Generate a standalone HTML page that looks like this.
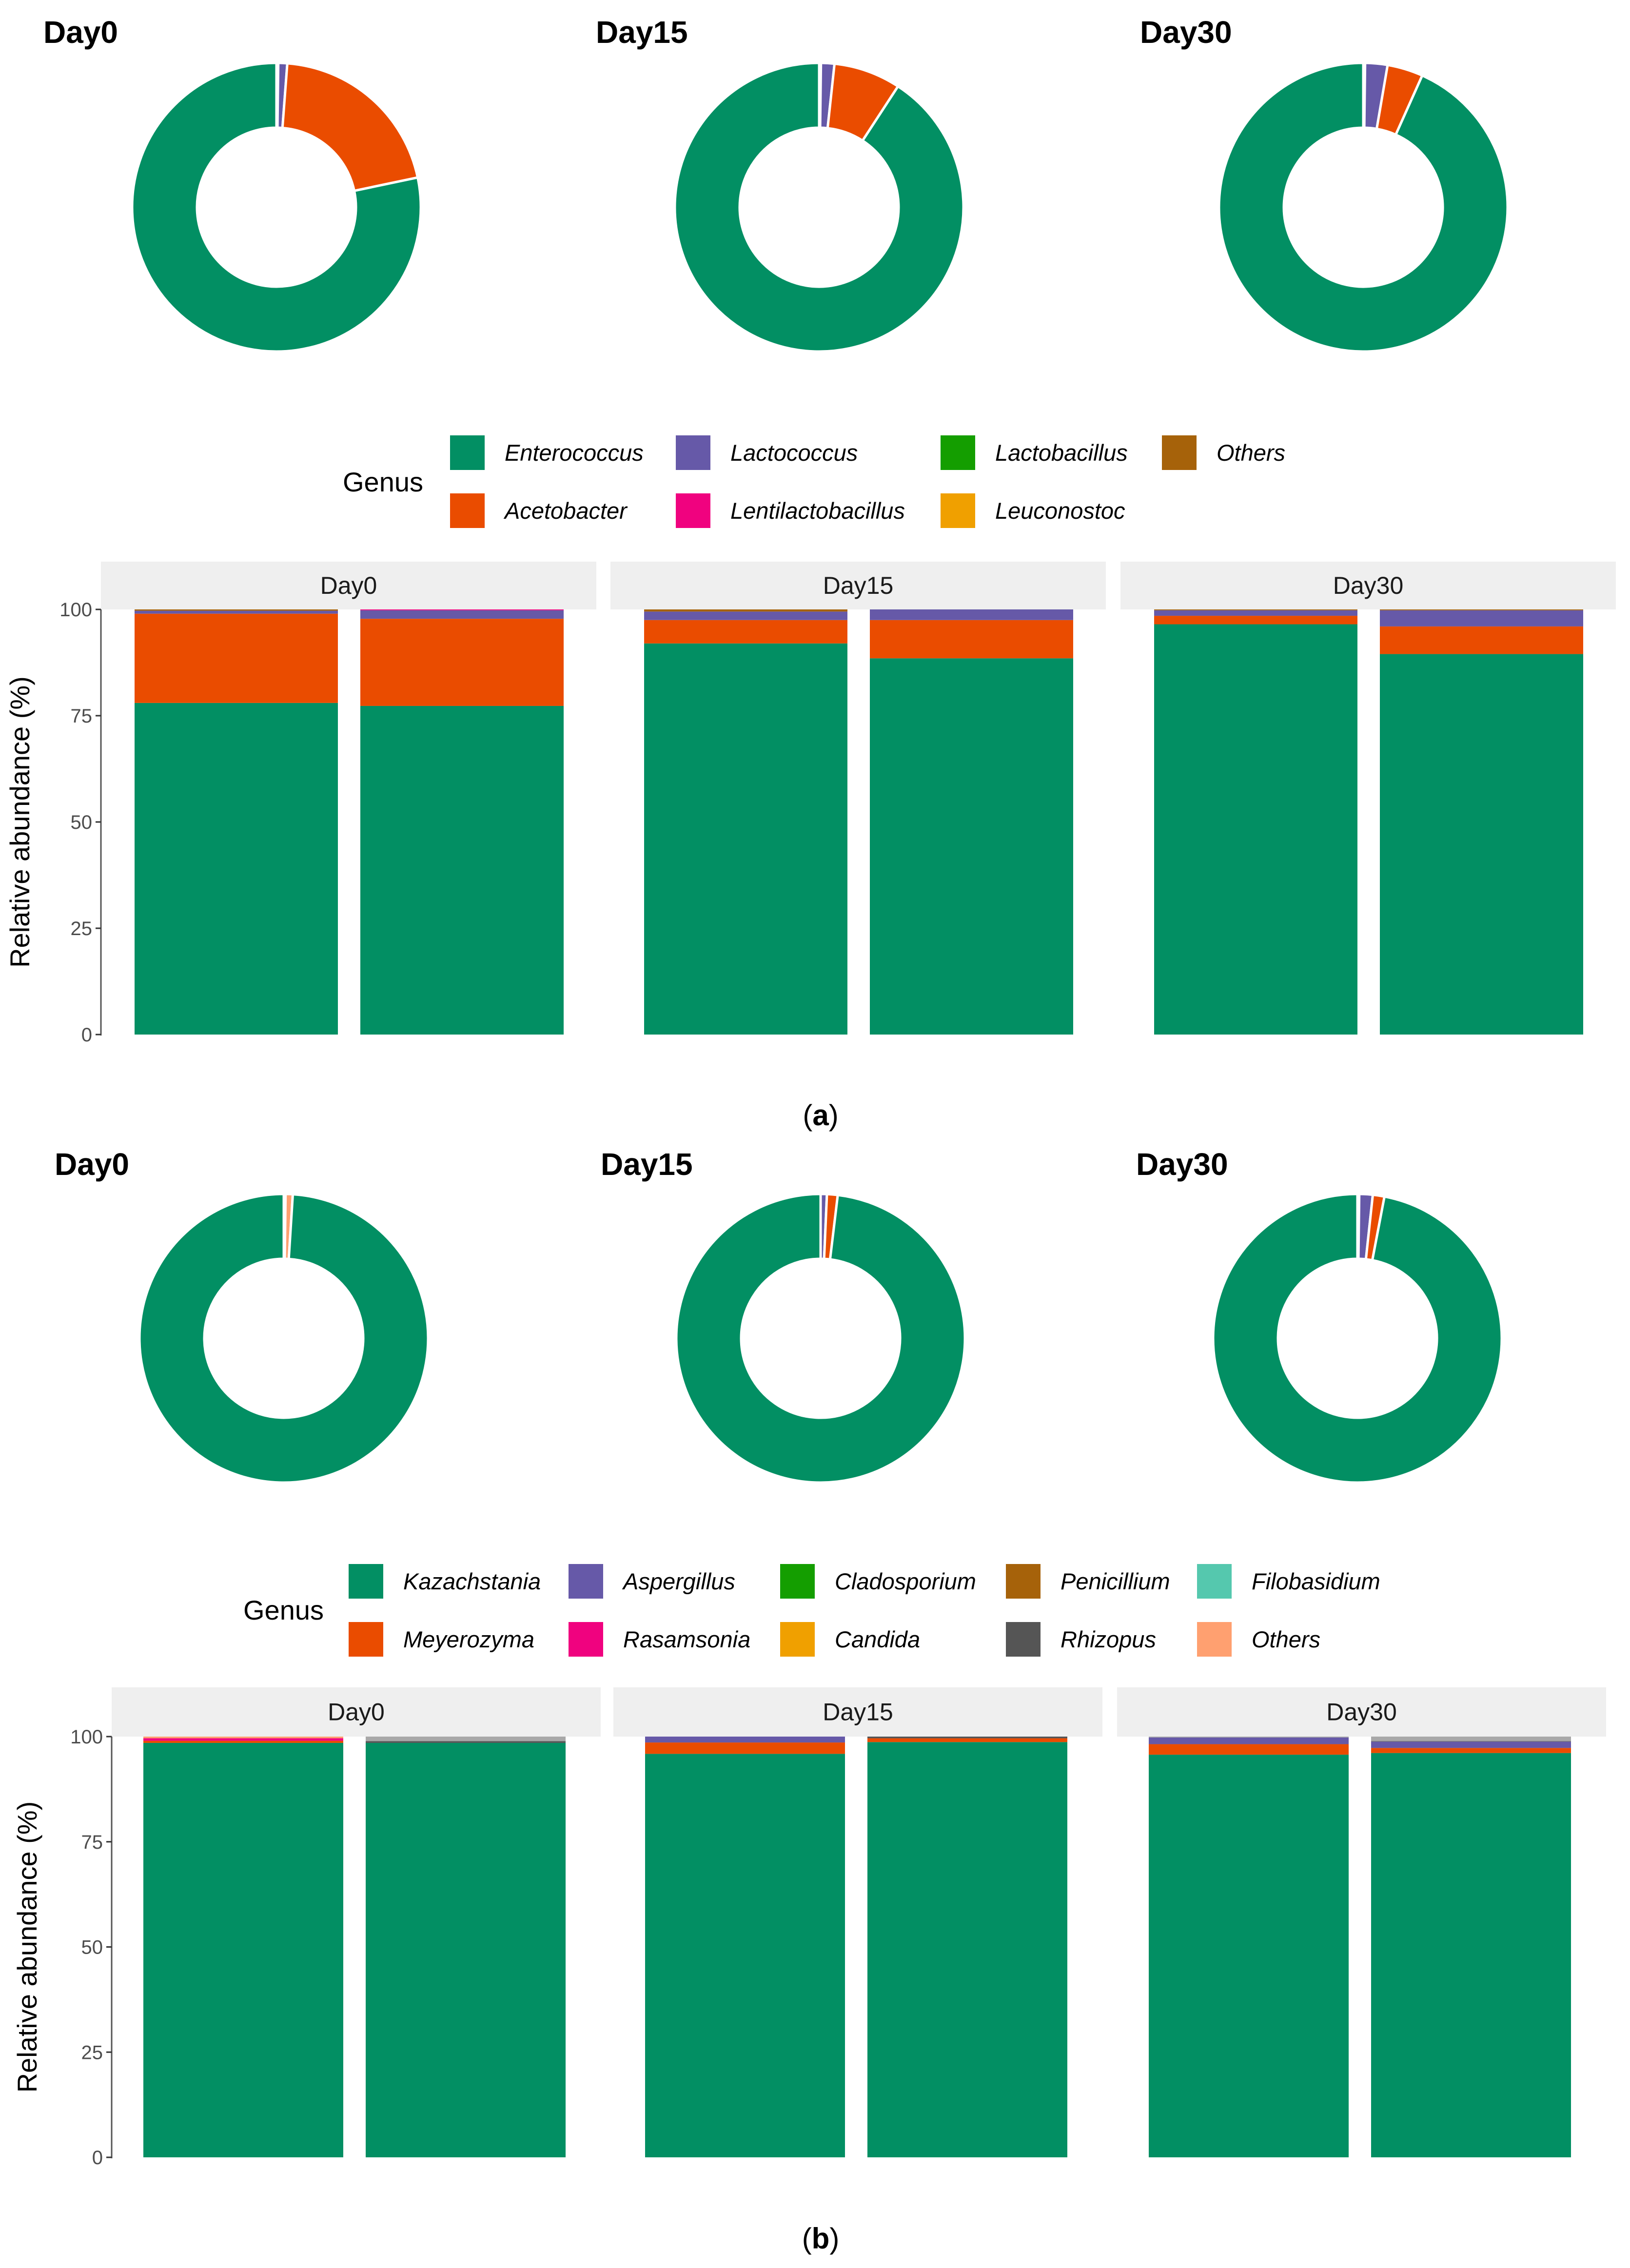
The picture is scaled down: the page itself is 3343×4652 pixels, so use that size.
<!DOCTYPE html>
<html><head><meta charset="utf-8"><style>
html,body{margin:0;padding:0;background:#fff}
svg{display:block}
text{font-family:"Liberation Sans",sans-serif}
</style></head><body>
<svg id="fig" width="3343" height="4652" viewBox="0 0 3343 4652" xmlns="http://www.w3.org/2000/svg">
<rect width="3343" height="4652" fill="#fff"/>
<g id="root"></g>
</svg>
<script>
// ---------- DATA ----------
const days = ["Day0","Day15","Day30"];
// bacteria (a)
const bacGenera = ["Enterococcus","Acetobacter","Lactococcus","Lentilactobacillus","Lactobacillus","Leuconostoc","Others"];
const bacColors = ["#028F63","#EA4C00","#6659A8","#F0027F","#149E00","#F0A000","#A6620A"];
const bacBars = [
  [78.0,21.0,0.7,0,0,0,0.3],
  [77.3,20.5,2.0,0.2,0,0,0],
  [92.0,5.5,2.0,0,0,0,0.5],
  [88.5,9.0,2.5,0,0,0,0],
  [96.5,2.0,1.3,0,0,0,0.2],
  [89.5,6.5,3.8,0,0,0,0.2]
];
const bacDonut = [
  [78.3,20.5,1.0,0,0,0,0.2],
  [90.8,7.5,1.5,0,0,0,0.2],
  [93.3,4.0,2.5,0,0,0,0.2]
];
// fungi (b)
const funGenera = ["Kazachstania","Meyerozyma","Aspergillus","Rasamsonia","Cladosporium","Candida","Penicillium","Rhizopus","Filobasidium","Others","Unassigned"];
const funColors = ["#028F63","#EA4C00","#6659A8","#F0027F","#149E00","#F0A000","#A6620A","#555555","#55C8AE","#FFA070","#A8A8A8"];
const funBars = [
  [98.5,0.5,0,0.6,0,0,0,0,0,0.4,0],
  [98.5,0,0,0,0,0,0,0.4,0,0,1.1],
  [95.9,2.7,1.4,0,0,0,0,0,0,0,0],
  [98.7,0.9,0,0,0,0,0,0.4,0,0,0],
  [95.7,2.5,1.6,0,0,0,0,0,0,0,0.2],
  [96.1,1.2,1.5,0,0,0,0,0.1,0,0,1.1]
];
const funDonut = [
  [99.0,0,0,0,0,0,0,0,0,0.8,0.2],
  [98.1,1.2,0.7,0,0,0,0,0,0,0,0],
  [97.0,1.3,1.5,0,0,0,0,0,0,0,0.2]
];
const yTicks = [0,25,50,75,100];

// ---------- DRAW ----------
const NS="http://www.w3.org/2000/svg";
const root=document.getElementById('root');
function el(tag,attrs,parent,txt){const e=document.createElementNS(NS,tag);for(const k in attrs)e.setAttribute(k,attrs[k]);if(txt!==undefined)e.textContent=txt;(parent||root).appendChild(e);return e;}

function donut(cx,cy,R,r,vals,colors,order,name){
  const g=el('g',{});
  
  
  const tot=vals.reduce((a,b)=>a+b,0);
  let a0=0;
  order.forEach(i=>{
    const v=vals[i]; if(v<=0) return;
    const a1=a0+v/tot*2*Math.PI;
    const p=(ang,rad)=>[cx+rad*Math.sin(ang),cy-rad*Math.cos(ang)];
    const [x1,y1]=p(a0,R),[x2,y2]=p(a1,R),[x3,y3]=p(a1,r),[x4,y4]=p(a0,r);
    const lg=(a1-a0)>Math.PI?1:0;
    const s=el('path',{d:`M${x1},${y1}A${R},${R} 0 ${lg} 1 ${x2},${y2}L${x3},${y3}A${r},${r} 0 ${lg} 0 ${x4},${y4}Z`,fill:colors[i],stroke:'#fff','stroke-width':5},g);
    
    
    a0=a1;
  });
}

function barChart(cfg){
  const {y0,y100,panels,pw,boff,bw,bgap,stripTop,bars,colors,axisX,titleX,name}=cfg;
  const ys=v=>y0-v*(y0-y100)/100;
  const g=el('g',{});
  
  
  panels.forEach((px,pi)=>{
    const st=el('rect',{x:px,y:stripTop,width:pw,height:y100-stripTop,fill:'#EFEFEF'},g);
    
    
    const tt=el('text',{x:px+pw/2,y:(stripTop+y100)/2+17,'font-size':50,'text-anchor':'middle',fill:'#1a1a1a'},g,days[pi]);
    
    
    for(let b=0;b<2;b++){
      const vals=bars[pi*2+b];
      const bx=px+boff+b*(bw+bgap);
      let cum=0;
      vals.forEach((v,i)=>{
        if(v<=0)return;
        const r=el('rect',{x:bx,y:ys(cum+v),width:bw,height:ys(cum)-ys(cum+v),fill:colors[i]},g);
        
        
        cum+=v;
      });
    }
  });
  el('line',{x1:axisX,y1:y0+2,x2:axisX,y2:y100,stroke:'#555','stroke-width':3},g);
  yTicks.forEach(t=>{
    el('line',{x1:axisX-11,y1:ys(t),x2:axisX,y2:ys(t),stroke:'#333','stroke-width':3},g);
    const lt=el('text',{x:axisX-18,y:ys(t)+14,'font-size':40,'text-anchor':'end',fill:'#4d4d4d'},g,t);
    
    
  });
  const yt=el('text',{x:0,y:0,'font-size':56,'text-anchor':'middle',fill:'#000',transform:`translate(${titleX},${(y0+y100)/2}) rotate(-90)`},g,'Relative abundance (%)');
  
  
}

function legend(cfg){
  const {gx,gy,cols,rows,names,colors,labelOff,name}=cfg;
  const g=el('g',{});
  
  
  const t=el('text',{x:gx,y:gy,'font-size':56,fill:'#000'},g,'Genus');
  
  
  names.forEach((n,i)=>{
    const c=Math.floor(i/2), r=i%2;
    if(c>=cols.length)return;
    const e=el('g',{},g);
    
    
    el('rect',{x:cols[c],y:rows[r],width:71,height:71,fill:colors[i]},e);
    el('text',{x:cols[c]+labelOff,y:rows[r]+52,'font-size':47,'font-style':'italic',fill:'#000'},e,n);
  });
}

function title(x,y,t){
  const e=el('text',{x:x,y:y,'font-size':64,'font-weight':'bold',fill:'#000'},root,t);
  
  
}

// ---- (a) ----
const bacOrder=[6,2,1,3,4,5,0];
[[89,88],[1222,88],[2338,88]].forEach((p,i)=>title(p[0],p[1],days[i]));
[567,1680,2796].forEach((cx,i)=>donut(cx,425,296,163,bacDonut[i],bacColors,bacOrder,'donut-a-'+days[i].toLowerCase()));
legend({gx:703,gy:1008,cols:[923,1386,1929,2383],rows:[893,1012],
  names:["Enterococcus","Acetobacter","Lactococcus","Lentilactobacillus","Lactobacillus","Leuconostoc","Others"],
  colors:["#028F63","#EA4C00","#6659A8","#F0027F","#149E00","#F0A000","#A6620A"],labelOff:112,name:'legend-a'});
barChart({y0:2122,y100:1250,panels:[207,1252,2298],pw:1016,boff:69,bw:417,bgap:46,stripTop:1152,
  bars:bacBars,colors:bacColors,axisX:207,titleX:60,name:'bar-chart-a'});
const la=el('text',{x:1683,y:2308,'font-size':60,'text-anchor':'middle','font-family':'Liberation Serif',fill:'#000'},root);


la.innerHTML='(<tspan font-weight="bold">a</tspan>)';

// ---- (b) ----
const funOrder=[10,9,2,1,3,4,5,6,7,8,0];
[[112,2410],[1232,2410],[2330,2410]].forEach((p,i)=>title(p[0],p[1],days[i]));
[582,1683,2784].forEach((cx,i)=>donut(cx,2745,296,163,funDonut[i],funColors,funOrder,'donut-b-'+days[i].toLowerCase()));
legend({gx:499,gy:3322,cols:[715,1166,1600,2063,2455],rows:[3208,3327],
  names:["Kazachstania","Meyerozyma","Aspergillus","Rasamsonia","Cladosporium","Candida","Penicillium","Rhizopus","Filobasidium","Others"],
  colors:["#028F63","#EA4C00","#6659A8","#F0027F","#149E00","#F0A000","#A6620A","#555555","#55C8AE","#FFA070"],labelOff:112,name:'legend-b'});
barChart({y0:4425,y100:3562,panels:[229,1258,2291],pw:1003,boff:65,bw:410,bgap:46,stripTop:3461,
  bars:funBars,colors:funColors,axisX:229,titleX:75,name:'bar-chart-b'});
const lb=el('text',{x:1683,y:4612,'font-size':60,'text-anchor':'middle','font-family':'Liberation Serif',fill:'#000'},root);


lb.innerHTML='(<tspan font-weight="bold">b</tspan>)';
</script>
</body></html>
